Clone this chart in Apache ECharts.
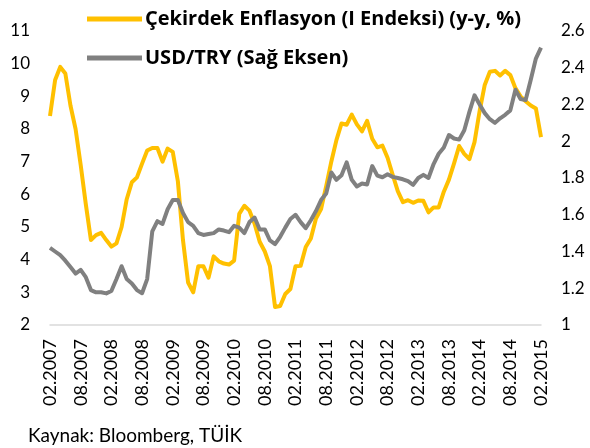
<!DOCTYPE html>
<html>
<head>
<meta charset="utf-8">
<script src="https://cdn.jsdelivr.net/npm/echarts@6/dist/echarts.min.js"></script>
<style>
html,body{margin:0;padding:0;background:#fff;}
#c{width:590px;height:448px;}
</style>
</head>
<body>
<div id="c"></div>
<script>
// Monthly categories 02.2007 .. 02.2015
const categories = [];
for (let y = 2007, m = 2; y < 2015 || (y === 2015 && m <= 2); ) {
  categories.push((m < 10 ? '0' + m : '' + m) + '.' + y);
  m++; if (m > 12) { m = 1; y++; }
}

const coreInflation = [
  8.4, 9.5, 9.9, 9.7, 8.72, 8.0, 6.9, 5.7, 4.6, 4.75,
  4.82, 4.6, 4.4, 4.5, 5.0, 5.85, 6.37, 6.52, 6.94, 7.34,
  7.42, 7.42, 7.0, 7.4, 7.3, 6.4, 4.6, 3.3, 3.0, 3.8,
  3.8, 3.45, 4.1, 3.95, 3.88, 3.85, 3.97, 5.4, 5.65, 5.5,
  5.1, 4.55, 4.25, 3.8, 2.55, 2.58, 2.95, 3.1, 3.8, 3.81,
  4.39, 4.65, 5.26, 5.55, 6.25, 7.0, 7.66, 8.17, 8.13, 8.44,
  8.14, 7.93, 8.25, 7.7, 7.44, 7.49, 7.12, 6.6, 6.1, 5.76,
  5.82, 5.74, 5.81, 5.8, 5.45, 5.6, 5.6, 6.08, 6.45, 6.95,
  7.48, 7.24, 7.08, 7.6, 8.55, 9.35, 9.75, 9.78, 9.64, 9.78,
  9.65, 9.25, 9.0, 8.85, 8.72, 8.63, 7.75
];

const usdTry = [
  1.42, 1.40, 1.38, 1.35, 1.315, 1.28, 1.30, 1.26, 1.19, 1.178,
  1.178, 1.172, 1.185, 1.25, 1.32, 1.25, 1.226, 1.19, 1.173, 1.25,
  1.51, 1.565, 1.55, 1.63, 1.68, 1.68, 1.61, 1.56, 1.54, 1.50,
  1.49, 1.495, 1.50, 1.52, 1.514, 1.505, 1.54, 1.53, 1.50, 1.56,
  1.585, 1.52, 1.52, 1.46, 1.44, 1.48, 1.53, 1.577, 1.60, 1.56,
  1.527, 1.57, 1.62, 1.68, 1.716, 1.83, 1.79, 1.815, 1.885, 1.79,
  1.754, 1.77, 1.765, 1.865, 1.813, 1.804, 1.82, 1.806, 1.80, 1.793,
  1.783, 1.763, 1.80, 1.817, 1.80, 1.876, 1.932, 1.966, 2.034, 2.015,
  2.009, 2.06, 2.16, 2.25, 2.20, 2.153, 2.12, 2.10, 2.125, 2.144,
  2.168, 2.28, 2.23, 2.224, 2.335, 2.45, 2.51
];

const seriesNames = ['Çekirdek Enflasyon (I Endeksi) (y-y, %)', 'USD/TRY (Sağ Eksen)'];
const sourceText = 'Kaynak: Bloomberg, TÜİK';

const FONT = 'Lato';
const chart = echarts.init(document.getElementById('c'), null, {renderer: 'canvas'});
chart.setOption({
  animation: false,
  backgroundColor: '#ffffff',
  textStyle: {fontFamily: FONT},
  grid: {left: 50, right: 49, top: 31, bottom: 123, containLabel: false},
  legend: {
    orient: 'vertical',
    left: 87,
    top: 7,
    padding: 0,
    itemWidth: 55,
    itemHeight: 5,
    itemGap: 15,
    icon: 'rect',
    textStyle: {fontFamily: 'Open Sans', fontSize: 20, fontWeight: 'bold', color: '#000', lineHeight: 24, padding: [0,0,0,-2]},
    data: seriesNames
  },
  xAxis: {
    type: 'category',
    data: categories,
    boundaryGap: false,
    axisLine: {lineStyle: {color: '#d9d9d9', width: 1.5}},
    axisTick: {show: false},
    axisLabel: {interval: 5, rotate: 90, fontSize: 18, color: '#000', margin: 14, fontFamily: FONT},
    splitLine: {show: false}
  },
  yAxis: [
    {
      type: 'value', min: 2, max: 11, interval: 1,
      axisLine: {show: false}, axisTick: {show: false}, splitLine: {show: false},
      axisLabel: {fontSize: 17, color: '#000', margin: 20, fontFamily: FONT}
    },
    {
      type: 'value', min: 1, max: 2.6, interval: 0.2, position: 'right',
      axisLine: {show: false}, axisTick: {show: false}, splitLine: {show: false},
      axisLabel: {fontSize: 17, color: '#000', margin: 20, fontFamily: FONT,
        formatter: v => String(+v.toFixed(1))}
    }
  ],
  series: [
    {
      name: seriesNames[0], type: 'line', yAxisIndex: 0, data: coreInflation,
      showSymbol: false, symbol: 'none',
      lineStyle: {color: '#FFC000', width: 4, join: 'round'},
      itemStyle: {color: '#FFC000'}, z: 2
    },
    {
      name: seriesNames[1], type: 'line', yAxisIndex: 1, data: usdTry,
      showSymbol: false, symbol: 'none',
      lineStyle: {color: '#808080', width: 4, join: 'round'},
      itemStyle: {color: '#808080'}, z: 3
    }
  ],
  graphic: [{
    type: 'text', left: 28, top: 426,
    style: {text: sourceText, fontSize: 19, fill: '#000', fontFamily: FONT}
  }]
});
</script>
</body>
</html>
